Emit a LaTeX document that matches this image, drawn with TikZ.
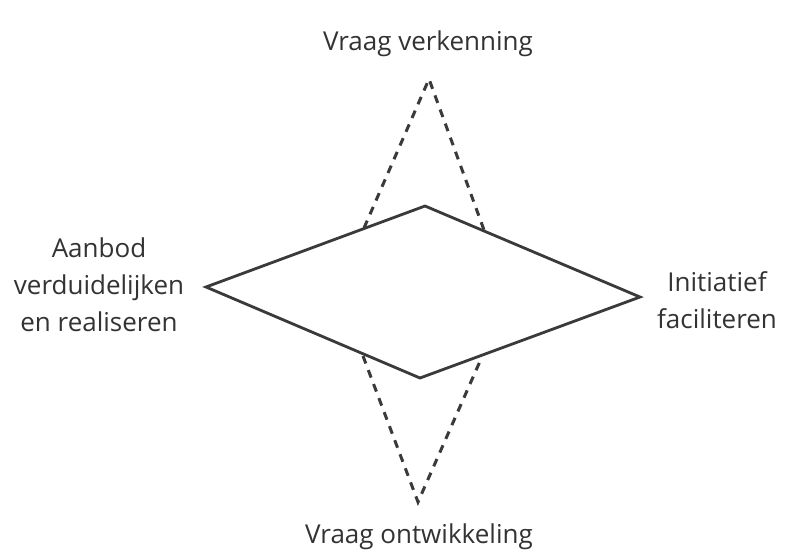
\documentclass[tikz,border=0pt]{standalone}
\usepackage{fontspec}
\setmainfont{Open Sans}
\definecolor{ink}{HTML}{3A3A3A}
\definecolor{txt}{HTML}{333333}
\begin{document}
\begin{tikzpicture}[x=1pt,y=-1pt,
  solidline/.style={draw=ink,line width=2.8pt,line join=miter},
  dashline/.style={draw=ink,line width=3pt,dash pattern=on 8pt off 7pt},
  lbl/.style={text=txt,font=\fontsize{26}{37}\selectfont,align=center,inner sep=0pt}]
\useasboundingbox[fill=white] (0,0) rectangle (794,555);
\coordinate (L) at (206,287);
\coordinate (T) at (425,206);
\coordinate (R) at (640,297);
\coordinate (B) at (420,378);
\coordinate (TA) at (429,79);
\coordinate (TL) at (364,228);
\coordinate (TR) at (484,230);
\coordinate (BA) at (418,502);
\coordinate (BL) at (363,356);
\coordinate (BR) at (481,359);
\draw[solidline] (L) -- (T) -- (R) -- (B) -- cycle;
\draw[dashline] (TL) -- (TA) -- (TR);
\draw[dashline] (BL) -- (BA) -- (BR);
\node[lbl] (top) at (428,44) {Vraag verkenning};
\node[lbl] (bot) at (419,537) {Vraag ontwikkeling};
\node[lbl] (left) at (99,285) {Aanbod\\verduidelijken\\en realiseren};
\node[lbl] (right) at (717,300) {Initiatief\\faciliteren};
\end{tikzpicture}
\end{document}
